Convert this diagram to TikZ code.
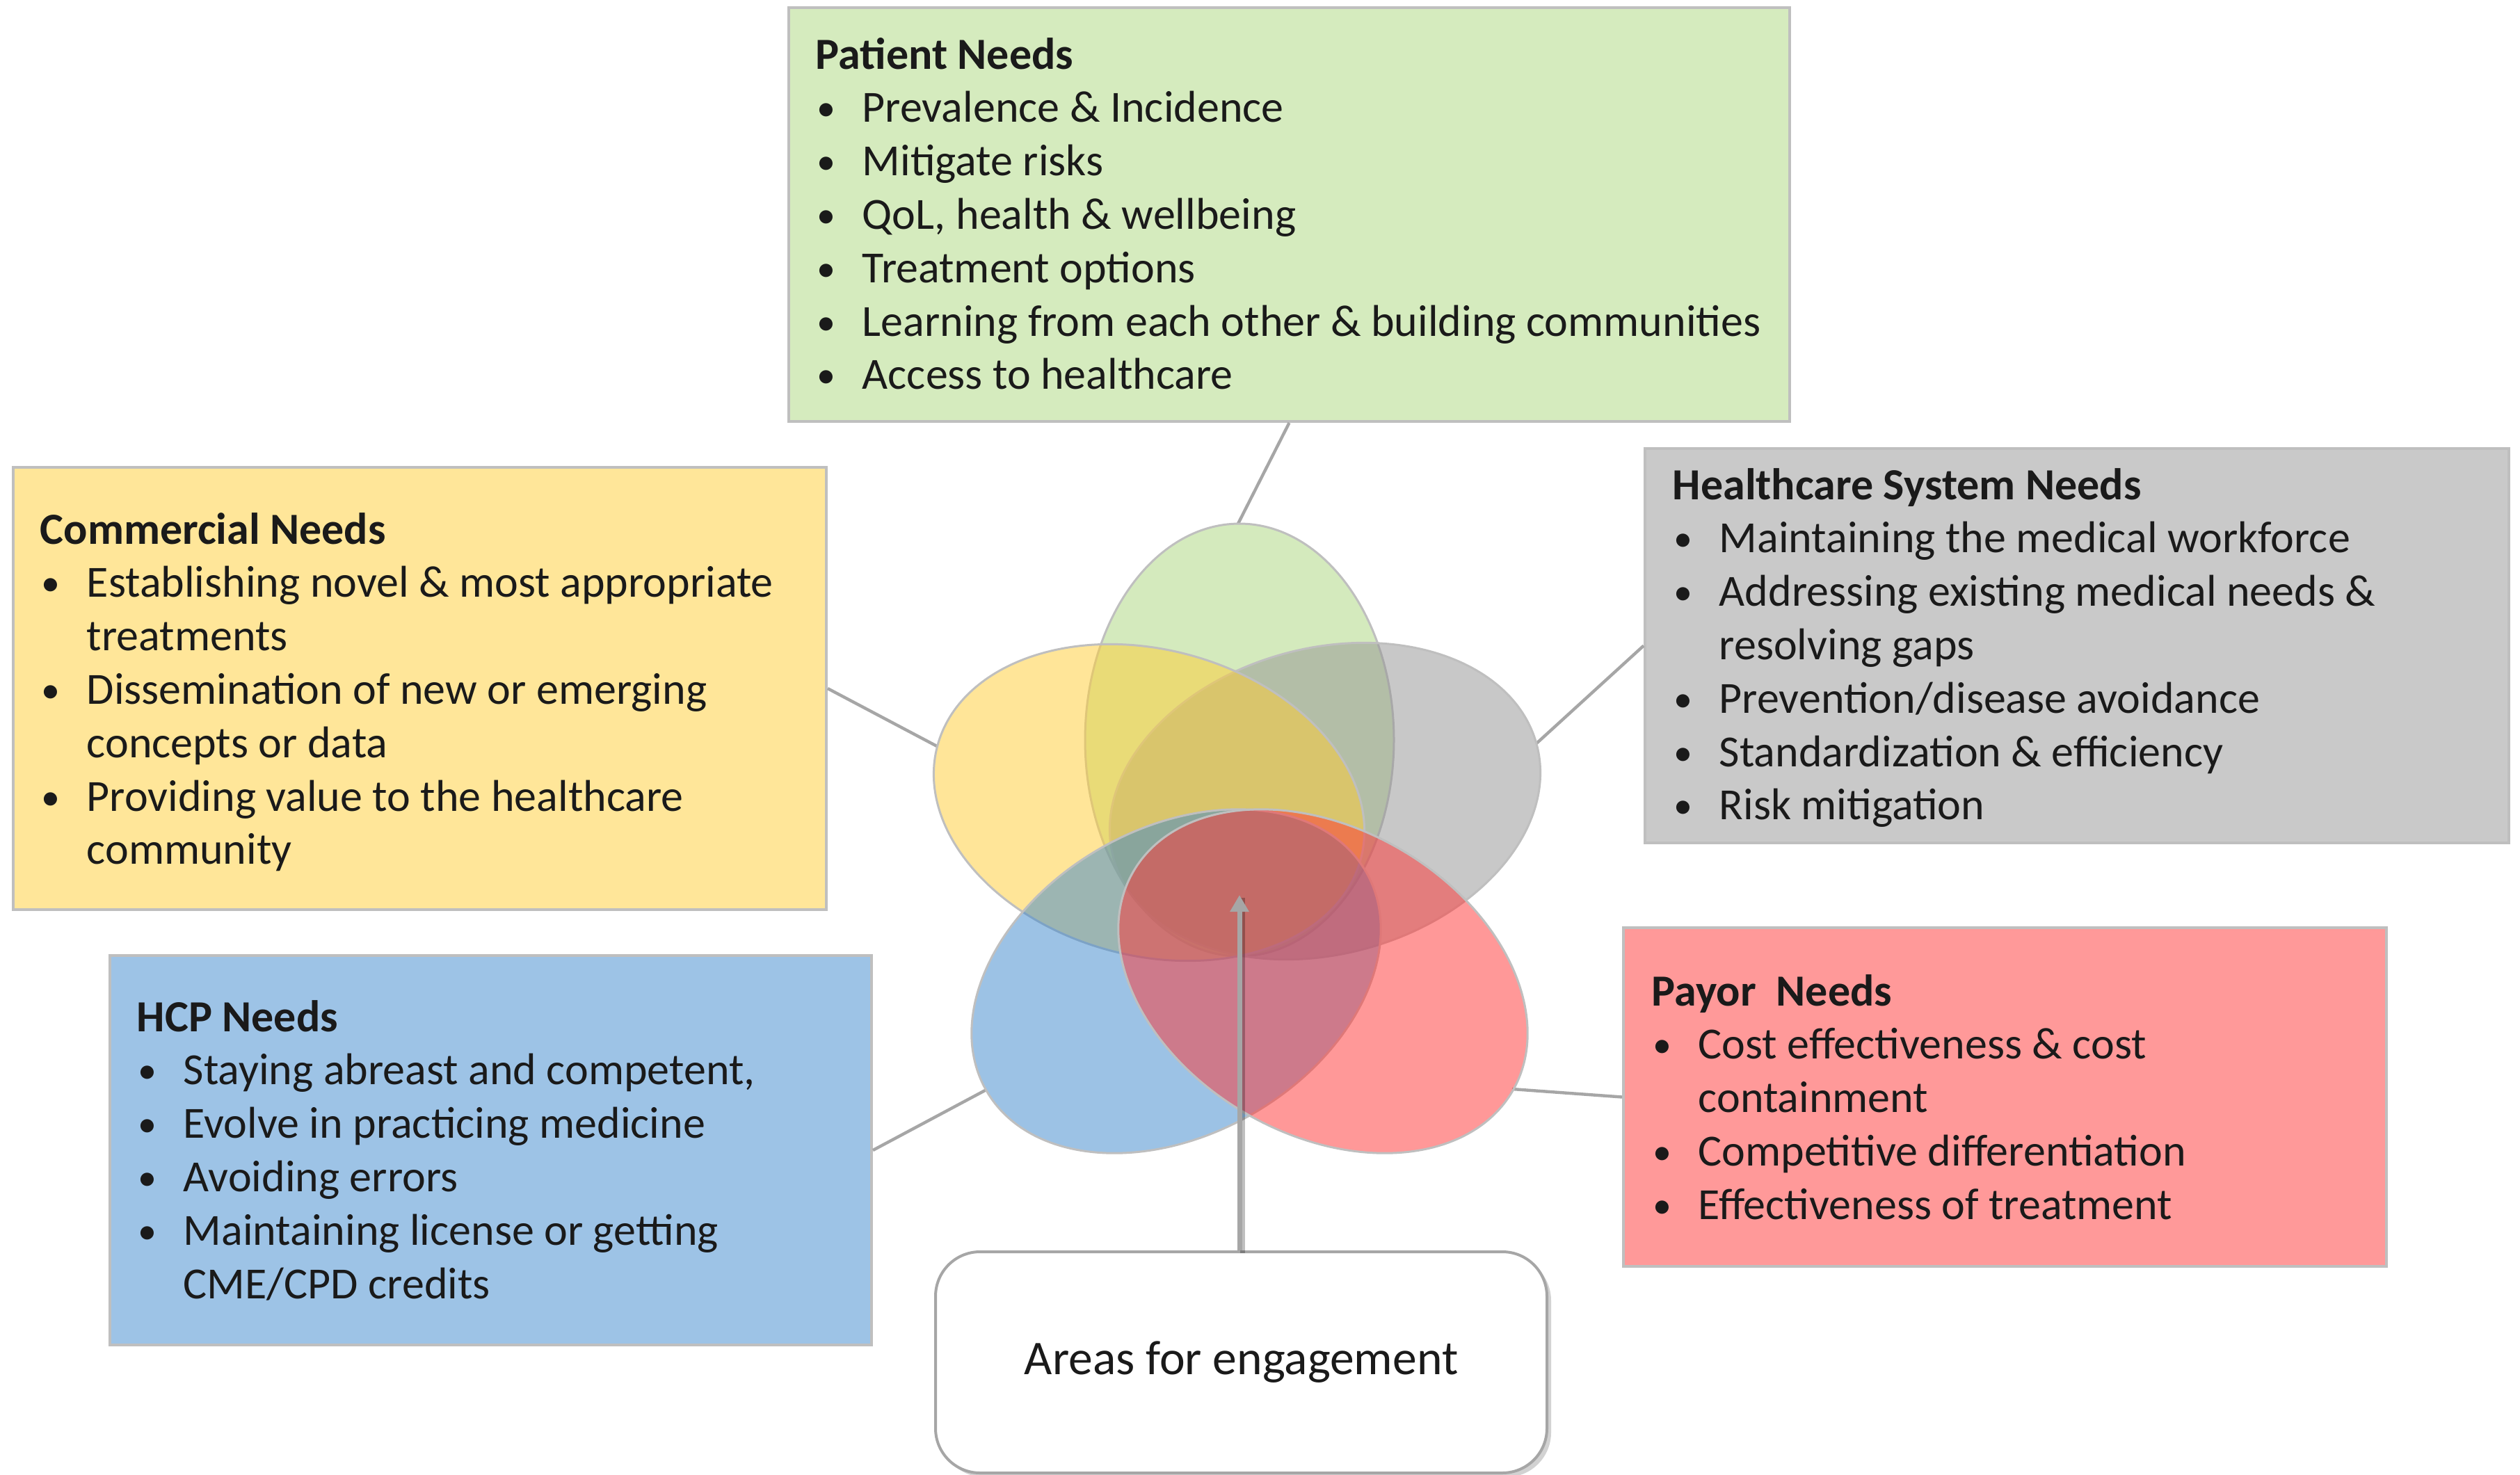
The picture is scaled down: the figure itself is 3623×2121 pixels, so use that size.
\documentclass[tikz,border=0pt]{standalone}
\usepackage{fontspec}
\setmainfont{Carlito}
\usetikzlibrary{arrows.meta,shadows}
\definecolor{gBox}{RGB}{213,235,190}
\definecolor{yBox}{RGB}{255,230,153}
\definecolor{bBox}{RGB}{157,195,230}
\definecolor{sBox}{RGB}{201,201,201}
\definecolor{rBox}{RGB}{255,153,153}
\definecolor{gBase}{RGB}{171,215,125}
\definecolor{yBase}{RGB}{255,205,51}
\definecolor{bBase}{RGB}{59,135,205}
\definecolor{sBase}{RGB}{147,147,147}
\definecolor{rBase}{RGB}{255,51,51}
\definecolor{edgeC}{RGB}{191,191,191}
\definecolor{lineC}{RGB}{166,166,166}
\definecolor{inkC}{RGB}{26,26,26}
\newcommand{\bitem}{\makebox[16.75pt][l]{\hspace{0.5pt}\raisebox{0.5pt}{\fontsize{13.5pt}{16pt}\selectfont •}}}
\newcommand{\cont}{\hspace*{16.75pt}}
\begin{document}
\begin{tikzpicture}[x=0.25pt,y=-0.25pt,
  needbox/.style={draw=edgeC,line width=1pt,rectangle,inner sep=0pt},
  needtext/.style={anchor=base west,inner sep=0pt,text=inkC,font=\fontsize{16pt}{19.2pt}\selectfont},
  petal/.style={draw=edgeC,line width=0.75pt,fill opacity=0.5},
  link/.style={draw=lineC,line width=1.1pt}]
\useasboundingbox (0,0) rectangle (3623,2121);
\fill[white] (0,0) rectangle (3623,2121);

% boxes
\node[needbox,fill=gBox,minimum width=359.75pt,minimum height=148.75pt] (patient) at (1853.5,308.5) {};
\node[needbox,fill=yBox,minimum width=292.25pt,minimum height=159pt] (commercial) at (603.5,990) {};
\node[needbox,fill=bBox,minimum width=273.75pt,minimum height=140pt] (hcp) at (705.5,1654) {};
\node[needbox,fill=sBox,minimum width=310.5pt,minimum height=141.75pt] (hsys) at (2986,928.5) {};
\node[needbox,fill=rBox,minimum width=274.25pt,minimum height=121.75pt] (payor) at (2882.5,1577.5) {};

% petal tips for connectors
\coordinate (gtip) at (1780,753);
\coordinate (ytip) at (1347,1073);
\coordinate (btip) at (1418,1567);
\coordinate (stip) at (2209,1069);
\coordinate (rtip) at (2174,1566);
\coordinate (hub) at (1782,1287);

% connectors
\draw[link] (patient.south) -- (gtip);
\draw[link] (commercial.east) -- (ytip);
\draw[link] (hcp.east) -- (btip);
\draw[link] (hsys.west) -- (stip);
\draw[link] (payor.west) -- (rtip);

% petals
\draw[petal,fill=gBase] (1782,1064) ellipse [x radius=55.5pt,y radius=77.75pt];
\draw[petal,fill=sBase,rotate around={15:(1905,1152)}] (1905,1152) ellipse [x radius=78.75pt,y radius=55pt];
\draw[petal,fill=yBase,rotate around={-15:(1652,1154)}] (1652,1154) ellipse [x radius=78.75pt,y radius=55pt];
\draw[petal,fill=bBase,rotate around={30:(1691,1411)}] (1691,1411) ellipse [x radius=78.75pt,y radius=55pt];
\draw[petal,fill=rBase,rotate around={-30:(1902,1411)}] (1902,1411) ellipse [x radius=78.75pt,y radius=55pt];

% texts
\node[needtext] (patienttxt) at (1172,99) {\begin{tabular}[t]{@{}l@{}}
\textbf{Patient Needs}\\
\bitem Prevalence \& Incidence\\
\bitem Mitigate risks\\
\bitem QoL, health \& wellbeing\\
\bitem Treatment options\\
\bitem Learning from each other \& building communities\\
\bitem Access to healthcare
\end{tabular}};
\node[needtext] (commercialtxt) at (57,782) {\begin{tabular}[t]{@{}l@{}}
\textbf{Commercial Needs}\\
\bitem Establishing novel \& most appropriate\\
\cont treatments\\
\bitem Dissemination of new or emerging\\
\cont concepts or data\\
\bitem Providing value to the healthcare\\
\cont community
\end{tabular}};
\node[needtext] (hcptxt) at (196,1483) {\begin{tabular}[t]{@{}l@{}}
\textbf{HCP Needs}\\
\bitem Staying abreast and competent,\\
\bitem Evolve in practicing medicine\\
\bitem Avoiding errors\\
\bitem Maintaining license or getting\\
\cont CME/CPD credits
\end{tabular}};
\node[needtext] (hsystxt) at (2404,718) {\begin{tabular}[t]{@{}l@{}}
\textbf{Healthcare System Needs}\\
\bitem Maintaining the medical workforce\\
\bitem Addressing existing medical needs \&\\
\cont resolving gaps\\
\bitem Prevention/disease avoidance\\
\bitem Standardization \& efficiency\\
\bitem Risk mitigation
\end{tabular}};
\node[needtext] (payortxt) at (2374,1446) {\begin{tabular}[t]{@{}l@{}}
\textbf{Payor\ \ Needs}\\
\bitem Cost effectiveness \& cost\\
\cont containment\\
\bitem Competitive differentiation\\
\bitem Effectiveness of treatment
\end{tabular}};

% areas for engagement
\node[draw=lineC,line width=1pt,fill=white,rounded corners=16pt,minimum width=219.75pt,minimum height=79.5pt,
  drop shadow={shadow xshift=1.5pt,shadow yshift=-1.5pt,opacity=0.35},text=inkC,
  font=\fontsize{17.4pt}{20pt}\selectfont] (areas) at (1784.5,1959) {Areas for engagement};

% arrow
\draw[draw=black,opacity=0.25,line width=1.75pt] ([xshift=1.2pt,yshift=-1pt]hub |- areas.north) -- ([xshift=1.2pt,yshift=-1pt]hub);
\draw[draw=lineC,line width=1.75pt,-{Triangle[width=6.5pt,length=6pt]}] (hub |- areas.north) -- (hub);
\end{tikzpicture}
\end{document}
